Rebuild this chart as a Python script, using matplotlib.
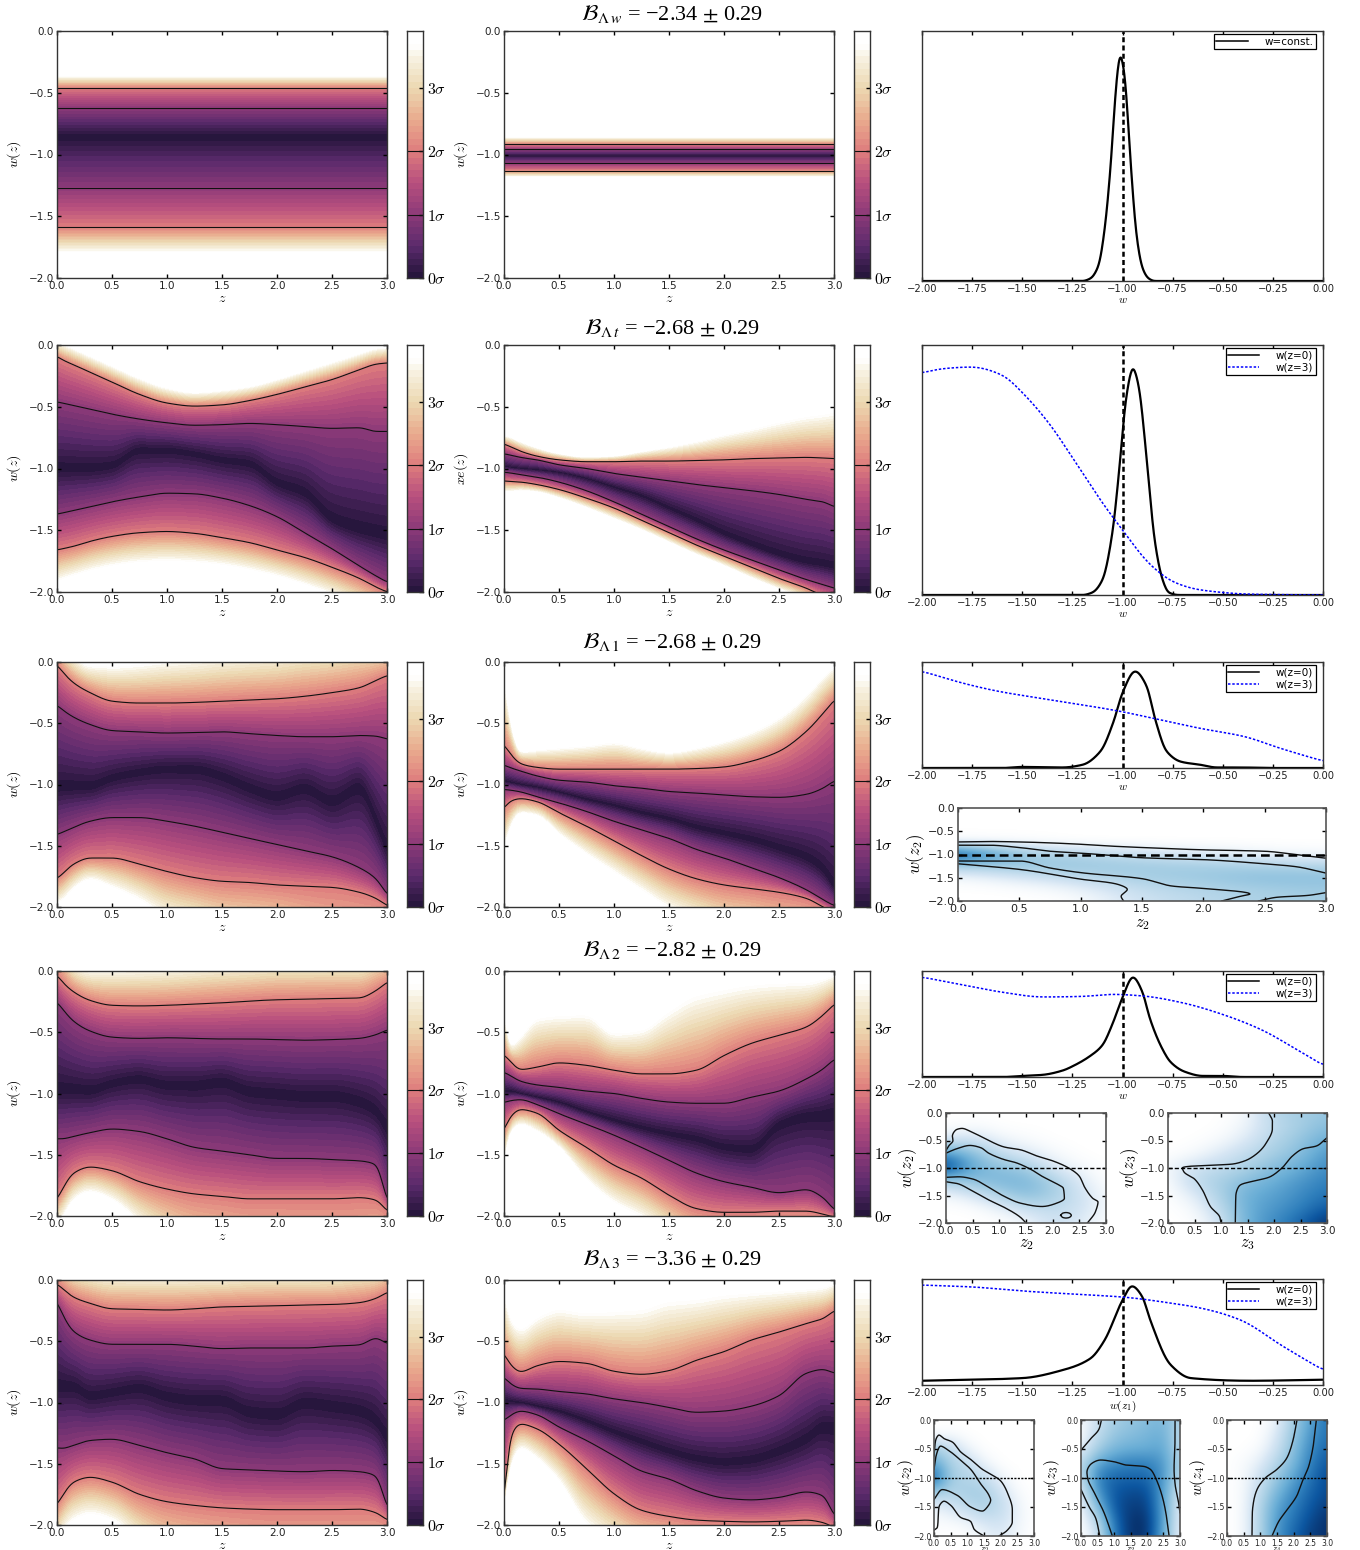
import numpy as np
import matplotlib
matplotlib.use("Agg")
import matplotlib.pyplot as plt
from matplotlib.colors import LinearSegmentedColormap

plt.rcParams['mathtext.fontset'] = 'cm'
plt.rcParams['font.family'] = ['DejaVu Sans']
W, H = 1360, 1550

# ---------- values ----------
Z = [0, .05, .15, .3, .5, .75, 1, 1.25, 1.5, 1.75, 2, 2.25, 2.5, 2.75, 2.9, 3.0]

# row 1 (constant w): edge of colour, 2 sigma, 1 sigma, centre, 1 sigma, 2 sigma, edge of colour
R1L = [-.35, -.46, -.62, -.85, -1.27, -1.59, -1.82]
R1M = [-.85, -.915, -.958, -1.01, -1.07, -1.13, -1.19]

R2L_UP3 = [.05, .03, -.01, -.07, -.15, -.25, -.33, -.37, -.35, -.32, -.26, -.19, -.12, -.05, -.01, 0]
R2L_UP2 = [-.09, -.12, -.16, -.22, -.30, -.40, -.47, -.495, -.485, -.45, -.40, -.34, -.28, -.20, -.155, -.145]
R2L_UP1 = [-.46, -.47, -.49, -.52, -.56, -.60, -.63, -.65, -.645, -.635, -.645, -.66, -.675, -.67, -.70, -.70]
R2L_MID = [-1.0, -1.0, -1.0, -1.0, -.98, -.85, -.85, -.88, -.93, -.96, -1.12, -1.2, -1.42, -1.5, -1.53, -1.55]
R2L_LO1 = [-1.37, -1.36, -1.34, -1.31, -1.27, -1.23, -1.20, -1.205, -1.24, -1.30, -1.39, -1.52, -1.65, -1.79, -1.87, -1.92]
R2L_LO2 = [-1.66, -1.65, -1.63, -1.59, -1.55, -1.52, -1.51, -1.525, -1.56, -1.60, -1.66, -1.72, -1.80, -1.89, -1.96, -2.0]
R2L_LO3 = [-1.95, -1.93, -1.90, -1.86, -1.82, -1.79, -1.78, -1.79, -1.81, -1.85, -1.90, -1.97, -2.05, -2.15, -2.2, -2.25]

R2M_UP3 = [-.72, -.73, -.77, -.82, -.87, -.90, -.89, -.85, -.81, -.76, -.70, -.65, -.59, -.54, -.52, -.50]
R2M_UP2 = [-.80, -.82, -.86, -.90, -.93, -.945, -.945, -.94, -.94, -.935, -.93, -.92, -.915, -.91, -.915, -.92]
R2M_UP1 = [-.88, -.89, -.91, -.93, -.97, -1.0, -1.04, -1.07, -1.10, -1.13, -1.155, -1.18, -1.21, -1.25, -1.27, -1.31]
R2M_MID = [-.98, -.99, -1.0, -1.01, -1.03, -1.08, -1.15, -1.22, -1.32, -1.42, -1.53, -1.62, -1.70, -1.76, -1.78, -1.80]
R2M_LO1 = [-1.03, -1.035, -1.05, -1.07, -1.11, -1.18, -1.27, -1.37, -1.47, -1.57, -1.66, -1.74, -1.82, -1.90, -1.94, -1.97]
R2M_LO2 = [-1.10, -1.105, -1.11, -1.13, -1.17, -1.24, -1.32, -1.42, -1.52, -1.62, -1.71, -1.80, -1.89, -1.97, -2.03, -2.06]
R2M_LO3 = [-1.2, -1.2, -1.19, -1.2, -1.25, -1.33, -1.42, -1.51, -1.61, -1.71, -1.80, -1.9, -1.99, -2.07, -2.12, -2.15]

R3L_UP3 = [.3, .18, .08, 0, 0, .02, .05, .07, .1, .12, .14, .18, .2, .23, .2, .19]
R3L_UP2 = [-.02, -.08, -.17, -.25, -.32, -.335, -.335, -.33, -.32, -.31, -.30, -.28, -.25, -.21, -.15, -.11]
R3L_UP1 = [-.35, -.39, -.45, -.51, -.56, -.57, -.58, -.575, -.57, -.585, -.60, -.61, -.61, -.60, -.605, -.63]
R3L_MID = [-1.03, -1.02, -1.02, -1.02, -.95, -.90, -.87, -.87, -.93, -1.03, -1.1, -1.03, -1.14, -1.02, -1.3, -1.55]
R3L_LO1 = [-1.41, -1.39, -1.35, -1.30, -1.27, -1.27, -1.30, -1.34, -1.39, -1.44, -1.49, -1.54, -1.59, -1.68, -1.77, -1.90]
R3L_LO2 = [-1.77, -1.73, -1.65, -1.60, -1.60, -1.65, -1.71, -1.76, -1.79, -1.80, -1.82, -1.83, -1.84, -1.88, -1.93, -1.99]
R3L_LO3 = [-2.0, -1.98, -1.88, -1.80, -1.87, -1.98, -2.13, -2.2, -2.3, -2.35, -2.4, -2.6, -2.8, -2.8, -2.6, -2.4]

R3M_UP3 = [0, -.4, -.72, -.70, -.68, -.66, -.63, -.68, -.72, -.68, -.62, -.54, -.42, -.23, -.08, 0]
R3M_UP2 = [-.67, -.74, -.83, -.86, -.875, -.875, -.875, -.875, -.875, -.87, -.857, -.81, -.73, -.565, -.42, -.31]
R3M_UP1 = [-.84, -.86, -.89, -.93, -.965, -.98, -1.01, -1.03, -1.057, -1.07, -1.085, -1.10, -1.105, -1.08, -1.03, -.97]
R3M_MID = [-.97, -.98, -1.0, -1.02, -1.06, -1.12, -1.17, -1.23, -1.28, -1.35, -1.40, -1.45, -1.52, -1.6, -1.7, -1.85]
R3M_LO1 = [-1.04, -1.045, -1.06, -1.10, -1.15, -1.22, -1.30, -1.37, -1.44, -1.53, -1.60, -1.68, -1.76, -1.86, -1.94, -1.99]
R3M_LO2 = [-1.2, -1.14, -1.115, -1.14, -1.23, -1.34, -1.46, -1.58, -1.69, -1.77, -1.82, -1.85, -1.88, -1.93, -2.0, -2.05]
R3M_LO3 = [-1.59, -1.4, -1.25, -1.27, -1.43, -1.6, -1.75, -1.9, -2.05, -2.15, -2.25, -2.3, -2.4, -2.4, -2.4, -2.4]

R4L_UP3 = [.45, .3, .1, .05, .06, .07, .08, .1, .12, .13, .15, .15, .15, .15, .2, .2]
R4L_UP2 = [-.03, -.09, -.17, -.24, -.28, -.285, -.28, -.27, -.26, -.245, -.235, -.23, -.225, -.22, -.16, -.09]
R4L_UP1 = [-.25, -.31, -.41, -.49, -.54, -.55, -.545, -.55, -.555, -.555, -.56, -.565, -.56, -.55, -.52, -.48]
R4L_MID = [-.97, -.97, -.97, -.98, -.92, -.88, -.93, -.93, -.90, -.98, -1.0, -1.02, -1.02, -1.07, -1.15, -1.3]
R4L_LO1 = [-1.37, -1.37, -1.35, -1.32, -1.29, -1.31, -1.37, -1.44, -1.47, -1.50, -1.53, -1.53, -1.54, -1.55, -1.58, -1.88]
R4L_LO2 = [-1.87, -1.78, -1.65, -1.60, -1.63, -1.72, -1.78, -1.82, -1.84, -1.86, -1.86, -1.86, -1.86, -1.85, -1.87, -1.96]
R4L_LO3 = [-2.1, -2.05, -1.9, -1.83, -1.9, -2.1, -2.3, -2.5, -2.6, -2.7, -2.7, -2.8, -2.8, -2.8, -2.6, -2.5]

R4M_UP3 = [-.2, -.6, -.5, -.34, -.32, -.31, -.47, -.44, -.27, -.13, -.09, -.06, -.05, -.05, -.03, 0]
R4M_UP2 = [-.68, -.73, -.805, -.785, -.75, -.77, -.81, -.84, -.84, -.81, -.69, -.59, -.525, -.457, -.36, -.27]
R4M_UP1 = [-.825, -.85, -.90, -.93, -.95, -.98, -1.0, -1.04, -1.07, -1.08, -1.08, -1.03, -.98, -.88, -.80, -.72]
R4M_MID = [-.98, -.98, -1.0, -1.03, -1.07, -1.15, -1.22, -1.28, -1.33, -1.37, -1.44, -1.46, -1.25, -1.18, -1.17, -1.15]
R4M_LO1 = [-1.075, -1.06, -1.05, -1.09, -1.165, -1.25, -1.34, -1.44, -1.545, -1.65, -1.72, -1.765, -1.81, -1.785, -1.85, -1.95]
R4M_LO2 = [-1.31, -1.2, -1.13, -1.16, -1.30, -1.44, -1.585, -1.69, -1.83, -1.94, -1.97, -1.97, -1.96, -1.96, -1.985, -2.01]
R4M_LO3 = [-1.65, -1.35, -1.27, -1.33, -1.46, -1.74, -1.93, -2.05, -2.2, -2.35, -2.4, -2.4, -2.4, -2.4, -2.4, -2.4]

R5L_UP3 = [.35, .25, .15, .12, .1, .1, .1, .1, .1, .12, .12, .12, .12, .15, .15, .2]
R5L_UP2 = [-.03, -.07, -.14, -.19, -.235, -.24, -.245, -.235, -.22, -.215, -.21, -.205, -.20, -.185, -.15, -.10]
R5L_UP1 = [-.17, -.28, -.42, -.49, -.525, -.525, -.525, -.54, -.56, -.555, -.555, -.555, -.54, -.53, -.475, -.52]
R5L_MID = [-.87, -.87, -.87, -.95, -.92, -.88, -.95, -.98, -.98, -1.08, -1.1, -1.0, -1.03, -1.07, -1.15, -1.3]
R5L_LO1 = [-1.37, -1.375, -1.35, -1.31, -1.30, -1.35, -1.41, -1.46, -1.54, -1.55, -1.56, -1.565, -1.555, -1.565, -1.60, -1.86]
R5L_LO2 = [-1.84, -1.76, -1.65, -1.61, -1.65, -1.75, -1.81, -1.84, -1.86, -1.87, -1.875, -1.875, -1.875, -1.87, -1.90, -1.96]
R5L_LO3 = [-2.2, -2.1, -2.0, -1.95, -2.0, -2.2, -2.4, -2.5, -2.6, -2.7, -2.8, -2.8, -2.8, -2.8, -2.6, -2.5]

R5M_UP3 = [0, -.25, -.36, -.26, -.19, -.22, -.2, -.18, -.11, -.1, -.07, -.06, -.05, -.04, -.03, 0]
R5M_UP2 = [-.594, -.68, -.75, -.70, -.665, -.68, -.745, -.77, -.74, -.655, -.585, -.49, -.425, -.355, -.315, -.25]
R5M_UP1 = [-.79, -.84, -.885, -.89, -.91, -.93, -.97, -1.0, -1.04, -1.08, -1.07, -1.03, -.945, -.76, -.73, -.76]
R5M_MID = [-.98, -.99, -1.0, -1.03, -1.07, -1.15, -1.24, -1.32, -1.40, -1.46, -1.49, -1.47, -1.4, -1.3, -1.2, -1.2]
R5M_LO1 = [-1.15, -1.11, -1.07, -1.10, -1.2, -1.31, -1.435, -1.56, -1.625, -1.72, -1.78, -1.795, -1.775, -1.73, -1.76, -1.925]
R5M_LO2 = [-1.87, -1.3, -1.175, -1.215, -1.34, -1.54, -1.745, -1.88, -1.93, -1.96, -1.97, -1.975, -1.97, -1.96, -1.98, -2.02]
R5M_LO3 = [-1.95, -1.6, -1.4, -1.49, -1.68, -2.05, -2.2, -2.3, -2.3, -2.4, -2.4, -2.4, -2.4, -2.4, -2.4, -2.4]

# 1D curves (fraction of axis height)
R1_W = [-2, -1.2, -1.16, -1.12, -1.09, -1.06, -1.03, -1.012, -.99, -.96, -.93, -.9, -.87, -.84, 0]
R1_P = [0, 0, .01, .06, .2, .45, .8, .91, .83, .48, .18, .05, .01, 0, 0]
R2_W = [-2, -1.2, -1.15, -1.1, -1.05, -1.02, -.98, -.948, -.92, -.88, -.84, -.8, -.77, -.72, 0]
R2_P = [0, 0, .01, .06, .25, .47, .8, .91, .84, .55, .22, .06, .01, 0, 0]
R2_BW = [-2, -1.9, -1.75, -1.6, -1.5, -1.36, -1.25, -1.11, -1.0, -.86, -.74, -.61, -.35, 0]
R2_BP = [.888, .905, .912, .88, .81, .68, .55, .38, .26, .12, .05, .02, .003, 0]
R3_W = [-2, -1.6, -1.5, -1.3, -1.2, -1.11, -1.045, -1.0, -.937, -.88, -.838, -.78, -.71, -.61, -.53, -.41, -.25, 0]
R3_P = [0, 0, .01, .005, .03, .157, .435, .71, .913, .775, .466, .157, .06, .03, .005, .005, 0, 0]
R3_BW = [-2, -1.775, -1.61, -1.44, -1.28, -1.01, -.84, -.61, -.39, -.22, 0]
R3_BP = [.913, .79, .72, .667, .62, .534, .466, .373, .296, .19, .065]
R4_W = [-2, -1.6, -1.5, -1.4, -1.3, -1.24, -1.16, -1.1, -1.05, -1, -.948, -.9, -.865, -.8, -.76, -.69, -.6, -.5, -.4, 0]
R4_P = [0, 0, .01, .02, .06, .11, .2, .3, .5, .75, .943, .8, .56, .26, .14, .05, .01, .01, 0, 0]
R4_BW = [-2, -1.8, -1.6, -1.4, -1.2, -1.05, -.9, -.7, -.5, -.3, -.15, 0]
R4_BP = [.943, .87, .8, .755, .76, .78, .765, .7, .59, .44, .28, .11]
R5_W = [-2, -1.5, -1.3, -1.16, -1.09, -1.0, -.953, -.9, -.865, -.76, -.66, -.36, 0]
R5_P = [.04, .065, .14, .25, .42, .8, .934, .83, .63, .19, .065, .04, .05]
R5_BW = [-2, -1.75, -1.5, -1.25, -1, -.75, -.61, -.41, -.21, 0]
R5_BP = [.943, .925, .887, .858, .83, .77, .726, .613, .377, .14]

# density tables: rows w=0,-.25,...,-2, columns z=0,.5,...,3
R3_D = [[0]*7, [0]*7, [0]*7,
        [.03, .02, 0, 0, 0, 0, 0],
        [1.0, .3, .25, .15, .1, .05, .03],
        [.25, .35, .35, .32, .3, .28, .25],
        [.02, .1, .2, .3, .33, .4, .38],
        [0, 0, .05, .2, .25, .3, .33],
        [0, 0, 0, .15, .22, .28, .3]]
R4A_D = [[0]*7, [0, .02, 0, 0, 0, 0, 0],
         [.1, .15, .05, .02, 0, 0, 0],
         [.6, .4, .2, .1, .03, 0, 0],
         [1.0, .5, .38, .32, .1, .03, 0],
         [.25, .38, .45, .45, .3, .1, 0],
         [.03, .1, .25, .4, .3, .15, .02],
         [0, 0, .05, .15, .2, .15, .02],
         [0, 0, 0, .03, .15, .1, 0]]
R4B_D = [[0, 0, 0, .02, .25, .3, .35],
         [0, 0, 0, .05, .2, .3, .4],
         [0, 0, .02, .1, .25, .35, .5],
         [0, .02, .1, .2, .3, .4, .6],
         [.03, .15, .2, .28, .4, .5, .65],
         [0, .2, .3, .4, .5, .6, .7],
         [0, .08, .28, .5, .55, .65, .75],
         [0, .02, .2, .5, .6, .7, .85],
         [0, 0, .12, .5, .65, .8, 1.0]]
R5A_D = [[0]*7, [0, .02, 0, 0, 0, 0, 0],
         [.3, .2, .05, 0, 0, 0, 0],
         [.55, .28, .2, .05, 0, 0, 0],
         [.85, .3, .25, .2, .05, 0, 0],
         [.3, .25, .3, .3, .15, .02, 0],
         [.05, .12, .2, .28, .2, .05, 0],
         [.02, .02, .05, .12, .15, .05, 0],
         [0, 0, 0, .05, .1, .03, 0]]
R5B_D = [[.02, .15, .3, .35, .4, .45, .25],
         [0, .2, .35, .4, .45, .5, .2],
         [.05, .3, .45, .5, .5, .55, .2],
         [.2, .55, .65, .7, .7, .6, .25],
         [.15, .7, .8, .8, .8, .6, .2],
         [.05, .6, .85, .9, .9, .55, .1],
         [0, .4, .85, .95, .95, .55, .05],
         [0, .2, .75, 1, 1, .55, .03],
         [0, .1, .7, 1, 1, .5, .02]]
R5C_D = [[0, 0, 0, .05, .3, .55, .75],
         [0, 0, 0, .1, .35, .6, .75],
         [0, 0, .02, .15, .4, .65, .8],
         [0, .02, .08, .25, .45, .7, .85],
         [0, .02, .15, .35, .55, .75, .9],
         [0, .02, .2, .45, .65, .8, .9],
         [0, .02, .25, .55, .7, .85, .95],
         [0, .02, .25, .6, .75, .9, 1],
         [0, .02, .25, .6, .8, .95, 1]]

# contour paths of the density panels
R3_C = [([0, .25, .5, .75, 1, 1.25, 1.5, 2, 2.5, 2.75, 3], [-.73, -.72, -.73, -.75, -.78, -.82, -.85, -.9, -.93, -1.0, -1.08]),
        ([0, .25, .5, .75, 1, 1.25, 1.5, 2, 2.5, 2.75, 3], [-.8, -.8, -.85, -.93, -.97, -1.02, -1.07, -1.11, -1.2, -1.26, -1.4]),
        ([0, .5, .75, 1, 1.5, 1.75, 2, 2.38, 2.3, 2.15], [-1.14, -1.14, -1.29, -1.39, -1.52, -1.68, -1.73, -1.85, -1.9, -2.0]),
        ([0, .5, 1, 1.3, 1.38, 1.33, 1.35], [-1.2, -1.32, -1.53, -1.64, -1.75, -1.9, -2.0]),
        ([2.45, 2.6, 2.85, 3], [-2.0, -1.92, -1.88, -1.82])]
R4A_C = [([0, .05, .13, .12, .2, .3, .45, .6, .8, 1.1, 1.4, 1.7, 2.0, 2.3, 2.5, 2.6, 2.75, 2.85, 2.8, 2.65],
          [-.68, -.6, -.5, -.42, -.3, -.28, -.33, -.4, -.5, -.62, -.67, -.78, -.87, -1.0, -1.15, -1.35, -1.55, -1.62, -1.8, -2.0]),
         ([0, .2, .5, .8, 1.1, 1.4, 1.5], [-1.25, -1.28, -1.42, -1.58, -1.72, -1.9, -2]),
         ([0, .2, .45, .65, .8, 1.1, 1.3, 1.6, 1.8, 2.1, 2.2, 2.22, 2.1, 1.8, 1.4, 1.1, .8, .5, .25, 0],
          [-.73, -.65, -.59, -.63, -.73, -.85, -.9, -1.03, -1.15, -1.3, -1.37, -1.55, -1.63, -1.7, -1.64, -1.52, -1.35, -1.2, -1.16, -1.17]),
         ([2.15, 2.19, 2.25, 2.31, 2.35, 2.31, 2.25, 2.19, 2.15], [-1.86, -1.82, -1.81, -1.82, -1.86, -1.9, -1.91, -1.9, -1.86])]
R4B_C = [([1.9, 1.97, 1.97, 1.85, 1.7, 1.45, 1.2, .8, .4, .27, .3, .5, .65, .8, .98, 1.0],
          [0, -.15, -.28, -.55, -.72, -.87, -.93, -.95, -.97, -1.0, -1.07, -1.2, -1.4, -1.7, -1.9, -2]),
         ([3, 2.8, 2.55, 2.35, 2.15, 1.9, 1.6, 1.35, 1.28, 1.27], [-.45, -.6, -.65, -.78, -1.0, -1.17, -1.24, -1.32, -1.5, -2])]
R5A_C = [([0, .05, .15, .3, .55, .8, 1.1, 1.45, 1.75, 2.0, 2.2, 2.35, 2.35, 2.2, 1.95],
          [-.62, -.35, -.26, -.32, -.38, -.55, -.68, -.85, -.95, -1.05, -1.25, -1.55, -1.75, -1.9, -2.0]),
         ([0, .05, .2, .45, .85, 1.1, 1.4, 1.65, 1.7, 1.6, 1.45, 1.1, .7, .25, 0],
          [-.85, -.65, -.45, -.53, -.72, -.85, -1.1, -1.3, -1.38, -1.5, -1.57, -1.5, -1.3, -1.2, -1.37]),
         ([0, .1, .15, .3, .5, .8, 1.1, 1.2, 1.5], [-1.9, -1.85, -1.5, -1.4, -1.47, -1.68, -1.75, -1.88, -2.0])]
R5B_C = [([0, .3, .55, .62], [-.52, -.32, -.15, 0]),
         ([2.85, 2.85, 2.82, 2.85, 2.95, 3], [0, -.3, -.85, -1.1, -1.4, -1.6]),
         ([2.67, 2.6, 2.5, 2.3, 2.1, 1.9, 1.4, 1.0, .6, .3, .18, .2, .4, .7, .95],
          [-2.0, -1.7, -1.4, -1.05, -.85, -.8, -.78, -.72, -.69, -.76, -.9, -1.0, -1.25, -1.6, -2.0]),
         ([0, .25, .45, .57], [-1.2, -1.5, -1.7, -2.0])]
R5C_C = [([2.1, 1.98, 1.8, 1.5, 1.15, .9, .8, .76, .75], [0, -.35, -.65, -.85, -1.0, -1.2, -1.4, -1.6, -2.0]),
         ([2.68, 2.6, 2.45, 2.3, 2.1, 1.8, 1.55, 1.35], [0, -.4, -.8, -1.0, -1.3, -1.55, -1.75, -2.0])]

TITLE_SUB = [r"\Lambda\,w", r"\Lambda\,t", r"\Lambda\,1", r"\Lambda\,2", r"\Lambda\,3"]
TITLE_VAL = ["\u22122.34", "\u22122.68", "\u22122.68", "\u22122.82", "\u22123.36"]
TITLE_ERR = ["0.29"] * 5
TITLE_Y = [14, 328, 642, 950, 1259]
SIGMA_TICKS = [0, 1, 2, 3]
SIGMA_MAX = 3.9
SIGMA_STEP = 0.1

# colours of the sigma scale
CMAP_POS = [0, .128, .256, .385, .513, .641, .769, .897, .945, 1]
CMAP_COL = ['#221438', '#5b2a6c', '#8c3a78', '#b74f7e', '#de7c7d', '#e9ab8e', '#ecd8b1', '#f8f3e4', '#ffffff', '#ffffff']
sig_cmap = LinearSegmentedColormap.from_list('sig', list(zip(CMAP_POS, CMAP_COL)), N=512)
sig_cmap.set_over('#ffffff')
BLUE_POS = [0, .12, .3, .5, .7, .85, 1]
BLUE_COL = ['#ffffff', '#d6e6f4', '#a6cee4', '#6aaed6', '#2f7fbc', '#0d57a1', '#08306b']
blue_cmap = LinearSegmentedColormap.from_list('blu', list(zip(BLUE_POS, BLUE_COL)), N=512)


# ---------- helpers ----------
def axpx(x0, y0, x1, y1):
    return fig.add_axes([x0 / W, 1 - y1 / H, (x1 - x0) / W, (y1 - y0) / H])


def pchip(x, y, xx):
    x = np.asarray(x, float); y = np.asarray(y, float)
    h = np.diff(x); d = np.diff(y) / h
    m = np.zeros_like(y)
    m[0], m[-1] = d[0], d[-1]
    for i in range(1, len(y) - 1):
        if d[i - 1] * d[i] > 0:
            w1, w2 = 2 * h[i] + h[i - 1], h[i] + 2 * h[i - 1]
            m[i] = (w1 + w2) / (w1 / d[i - 1] + w2 / d[i])
    i = np.clip(np.searchsorted(x, xx, side='right') - 1, 0, len(h) - 1)
    t = (xx - x[i]) / h[i]
    return ((2 * t**3 - 3 * t**2 + 1) * y[i] + (t**3 - 2 * t**2 + t) * h[i] * m[i]
            + (-2 * t**3 + 3 * t**2) * y[i + 1] + (t**3 - t**2) * h[i] * m[i + 1])


def soften(y, n):
    k = np.exp(-.5 * (np.arange(-3 * n, 3 * n + 1) / n) ** 2)
    k /= k.sum()
    return np.convolve(np.pad(y, 3 * n, mode='edge'), k, mode='valid')


def smooth_path(x, y, n=30):
    x = np.asarray(x, float); y = np.asarray(y, float)
    t = np.r_[0, np.cumsum(np.hypot(np.diff(x), np.diff(y)))]
    tt = np.linspace(0, t[-1], n * len(x))
    return pchip(t, x, tt), pchip(t, y, tt)


def style(ax, size=7.5, length=3.0, lw=1.0, col='#333333'):
    ax.tick_params(direction='in', top=True, right=True, labelsize=size, length=length,
                   width=1.0, pad=2, color='black', labelcolor='#222222')
    for s in ax.spines.values():
        s.set_linewidth(lw); s.set_color(col)


def sigma_panel(ax, curves, ylabel):
    zf = np.linspace(0, 3, 360)
    wf = np.linspace(-2, 0, 360)
    if np.ndim(curves[0]) == 0:
        cs = [np.full_like(zf, c) for c in curves]
    else:
        cs = [soften(pchip(Z, c, zf), 3) for c in curves]
    sig_nodes = np.array([SIGMA_MAX, 2, 1, 0, 1, 2, SIGMA_MAX])
    F = np.zeros((wf.size, zf.size))
    stack = np.array(cs[::-1])  # from bottom to top
    for j in range(zf.size):
        nodes = np.maximum.accumulate(stack[:, j] + np.arange(7) * 1e-5)
        F[:, j] = np.interp(wf, nodes, sig_nodes[::-1])
    levels = np.arange(0, SIGMA_MAX + 1e-6, SIGMA_STEP)
    ax.contourf(zf, wf, F, levels=levels, cmap=sig_cmap, vmin=0, vmax=SIGMA_MAX, extend='max')
    for k in (1, 2, 4, 5):
        ax.plot(zf, cs[k], color='#111111', lw=0.8)
    ax.set_xlim(0, 3); ax.set_ylim(-2, 0)
    ax.set_xticks(np.arange(0, 3.01, .5)); ax.set_yticks(np.arange(-2, .01, .5))
    style(ax)
    ax.set_xlabel('$z$', fontsize=10, labelpad=0.5)
    ax.set_ylabel(ylabel, fontsize=10, labelpad=4)


def sigma_bar(ax):
    v = np.linspace(0, SIGMA_MAX, 200)
    ax.contourf([0, 1], v, np.c_[v, v], levels=np.arange(0, SIGMA_MAX + 1e-6, SIGMA_STEP),
                cmap=sig_cmap, vmin=0, vmax=SIGMA_MAX, extend='max')
    ax.hlines([1, 2], 0, 1, color='#111111', lw=0.8)
    ax.set_xlim(0, 1); ax.set_ylim(0, SIGMA_MAX)
    ax.set_xticks([])
    ax.yaxis.tick_right()
    ax.set_yticks(SIGMA_TICKS)
    ax.set_yticklabels([rf'${t}\sigma$' for t in SIGMA_TICKS], fontsize=11.5)
    ax.tick_params(direction='in', length=3, width=1.0, pad=3, right=True)
    for s in ax.spines.values():
        s.set_linewidth(1.0); s.set_color('#333333')


def line_panel(ax, w, p, bw=None, bp=None, label='w=const.', xlabel='$w$'):
    wf = np.linspace(-2, 0, 800)
    ax.plot(wf, soften(pchip(w, p, wf), 3), color='black', lw=1.6, label=label)
    if bw is not None:
        ax.plot(wf, soften(pchip(bw, bp, wf), 10), color='blue', lw=1.1, ls=(0, (1.6, 1.2)), label='w(z=3)')
    ax.axvline(-1, color='black', lw=1.8, ls=(0, (2, 1.3)))
    ax.set_xlim(-2, 0); ax.set_ylim(0, 1)
    ax.set_xticks(np.arange(-2, .01, .25))
    ax.set_xticklabels([f'{t:.2f}'.replace('-', '\u2212') for t in np.arange(-2, .01, .25)])
    ax.set_yticks([])
    style(ax, size=7.2)
    ax.set_xlabel(xlabel, fontsize=8, labelpad=1)
    bb = ax.get_position()
    ax_w, ax_h = bb.width * W, bb.height * H
    leg = ax.legend(loc='upper right', fontsize=7.5, fancybox=False, framealpha=1, edgecolor='black',
                    handlelength=3.0, labelspacing=.15, borderpad=.25, handletextpad=1.6,
                    borderaxespad=0, bbox_to_anchor=(1 - 7 / ax_w, 1 - 3 / ax_h))
    leg.get_frame().set_linewidth(.9)
    for ln in leg.get_lines():
        ln.set_linewidth(1.1)


def density_panel(ax, table, paths, xl, yl, size, xlab, ylab, dash_lw, dash, xpad=0, ypad=1):
    T = np.asarray(table, float)
    ax.imshow(T, extent=[-.25, 3.25, -2.125, .125], aspect='auto', cmap=blue_cmap, vmin=0, vmax=1,
              interpolation='bicubic', origin='upper')
    for x, y in paths:
        ax.plot(*smooth_path(x, y), color='#111111', lw=1.0)
    ax.axhline(-1, color='black', lw=dash_lw, ls=dash)
    ax.set_xlim(0, 3); ax.set_ylim(-2, 0)
    ax.set_xticks(np.arange(0, 3.01, .5)); ax.set_yticks(np.arange(-2, .01, .5))
    style(ax, size=size, lw=1.2, col='#555555')
    ax.set_xlabel(xl, fontsize=xlab, labelpad=xpad)
    ax.set_ylabel(yl, fontsize=ylab, labelpad=ypad)


# ---------- figure ----------
fig = plt.figure(figsize=(W / 100, H / 100), dpi=100)

ROWS = [(31, 278), (345, 592), (662, 907), (971, 1216), (1280, 1525)]
LEFT = [R1L,
        [R2L_UP3, R2L_UP2, R2L_UP1, R2L_MID, R2L_LO1, R2L_LO2, R2L_LO3],
        [R3L_UP3, R3L_UP2, R3L_UP1, R3L_MID, R3L_LO1, R3L_LO2, R3L_LO3],
        [R4L_UP3, R4L_UP2, R4L_UP1, R4L_MID, R4L_LO1, R4L_LO2, R4L_LO3],
        [R5L_UP3, R5L_UP2, R5L_UP1, R5L_MID, R5L_LO1, R5L_LO2, R5L_LO3]]
MID = [R1M,
       [R2M_UP3, R2M_UP2, R2M_UP1, R2M_MID, R2M_LO1, R2M_LO2, R2M_LO3],
       [R3M_UP3, R3M_UP2, R3M_UP1, R3M_MID, R3M_LO1, R3M_LO2, R3M_LO3],
       [R4M_UP3, R4M_UP2, R4M_UP1, R4M_MID, R4M_LO1, R4M_LO2, R4M_LO3],
       [R5M_UP3, R5M_UP2, R5M_UP1, R5M_MID, R5M_LO1, R5M_LO2, R5M_LO3]]
MID_LABEL = ['$w(z)$', '$xe(z)$', '$w(z)$', '$w(z)$', '$w(z)$']

for i, (y0, y1) in enumerate(ROWS):
    sigma_panel(axpx(57, y0, 387, y1), LEFT[i], '$w(z)$')
    sigma_bar(axpx(407, y0, 423, y1))
    sigma_panel(axpx(504, y0, 834, y1), MID[i], MID_LABEL[i])
    sigma_bar(axpx(854, y0, 870, y1))
    fig.text(672 / W, 1 - TITLE_Y[i] / H,
             rf"$\mathcal{{B}}_{{{TITLE_SUB[i]}}}$ = {TITLE_VAL[i]} $\pm$ {TITLE_ERR[i]}",
             ha='center', va='center', fontsize=16, family='Liberation Serif', math_fontfamily='stix')

line_panel(axpx(922, 31, 1323, 281), R1_W, R1_P)
line_panel(axpx(922, 345, 1323, 595), R2_W, R2_P, R2_BW, R2_BP, 'w(z=0)')
line_panel(axpx(922, 662, 1323, 768), R3_W, R3_P, R3_BW, R3_BP, 'w(z=0)')
line_panel(axpx(922, 971, 1323, 1077), R4_W, R4_P, R4_BW, R4_BP, 'w(z=0)')
line_panel(axpx(922, 1279, 1323, 1385), R5_W, R5_P, R5_BW, R5_BP, 'w(z=0)', xlabel='$w(z_1)$')

density_panel(axpx(958, 808, 1326, 901), R3_D, R3_C, '$z_2$', '$w(z_2)$', 8, 12, 12, 1.8, (0, (3.5, 2)))
density_panel(axpx(946, 1113, 1106, 1223), R4A_D, R4A_C, '$z_2$', '$w(z_2)$', 7.5, 12, 12, 1.0, (0, (3, 1.5)), -1.5, -1)
density_panel(axpx(1168, 1113, 1327, 1223), R4B_D, R4B_C, '$z_3$', '$w(z_3)$', 7.5, 12, 12, 1.0, (0, (3, 1.5)), -1.5, -1)
density_panel(axpx(934, 1420, 1034, 1536), R5A_D, R5A_C, '$z_2$', '$w(z_2)$', 5.5, 6.5, 11, 1.0, (0, (1.5, 1)), -2, -2)
density_panel(axpx(1081, 1420, 1180, 1536), R5B_D, R5B_C, '$z_3$', '$w(z_3)$', 5.5, 6.5, 11, 1.0, (0, (1.5, 1)), -2, -2)
density_panel(axpx(1227, 1420, 1327, 1536), R5C_D, R5C_C, '$z_4$', '$w(z_4)$', 5.5, 6.5, 11, 1.0, (0, (1.5, 1)), -2, -2)

fig.savefig('out.png', dpi=100, facecolor='white')
